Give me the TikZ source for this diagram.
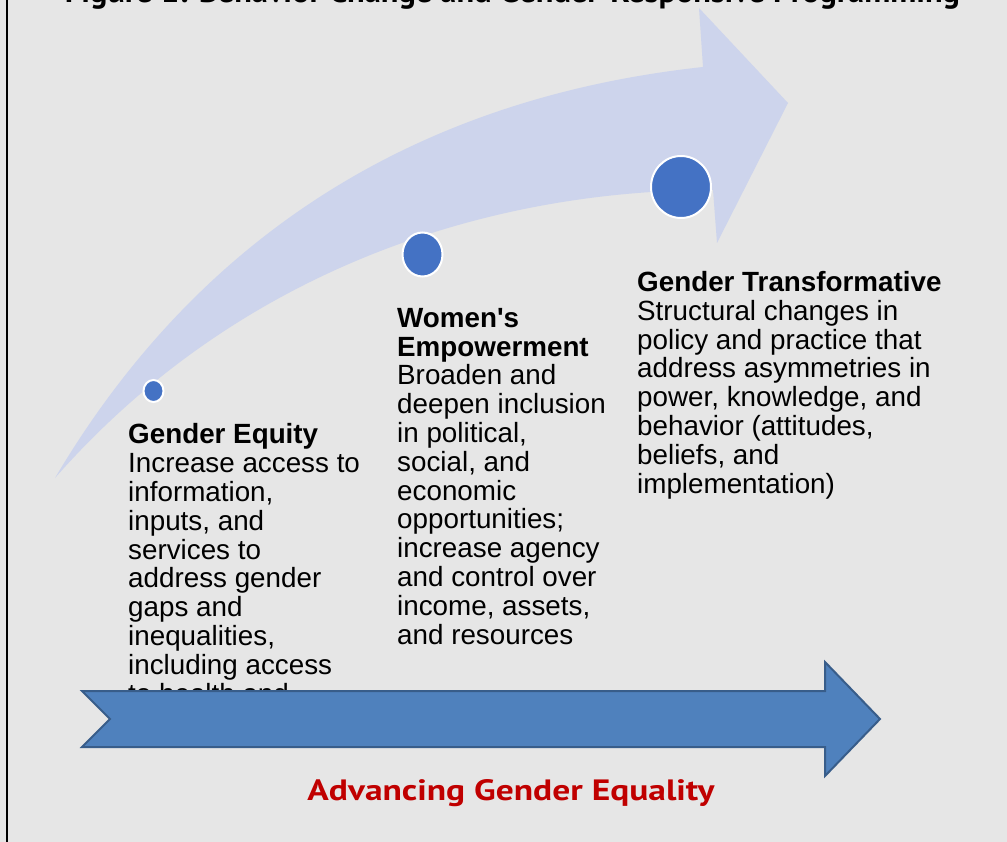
\documentclass[tikz,border=0pt]{standalone}
\usepackage{fontspec}
\setmainfont{Liberation Sans}
\newfontfamily\gillfont{PT Sans}
\usepackage{graphicx}
\usetikzlibrary{shapes.geometric}
\usetikzlibrary{positioning}
\definecolor{bggray}{HTML}{E6E6E6}
\definecolor{curvefill}{HTML}{CDD4EC}
\definecolor{dotblue}{HTML}{4472C4}
\definecolor{barblue}{HTML}{4F81BD}
\definecolor{baredge}{HTML}{385D8A}
\definecolor{eqred}{HTML}{C00000}

\begin{document}
\begin{tikzpicture}[x=1pt,y=-1pt,
  stagedot/.style={ellipse,fill=dotblue,draw=white,line width=2pt,inner sep=0pt},
  coltext/.style={anchor=base west,align=left,inner sep=0pt,font=\fontsize{27.8}{28.8}\selectfont}]
\useasboundingbox (0,0) rectangle (1007,842);
\fill[bggray] (0,0) rectangle (1007,842);
\clip (0,0) rectangle (1007,842);
\fill[curvefill] (55,478) .. controls (190,250) and (400,100) .. (703,67) -- (699,8) -- (788,103) -- (717,243) -- (713,190) .. controls (500,190) and (245,262) .. (55,478) -- cycle;
\node[stagedot,minimum width=20pt,minimum height=22pt] (dotequity) at (153.5,391) {};
\node[stagedot,minimum width=40pt,minimum height=44pt] (dotempower) at (422.5,254.5) {};
\node[stagedot,minimum width=60pt,minimum height=62pt] (dottransform) at (681,187) {};
\node[coltext] (equity) at (128,703) {\textbf{Gender Equity}\\Increase access to\\information,\\inputs, and\\services to\\address gender\\gaps and\\inequalities,\\including access\\to health and};
\node[coltext] (empower) at (397,644) {\textbf{Women\textquotesingle s}\\\textbf{Empowerment}\\Broaden and\\deepen inclusion\\in political,\\social, and\\economic\\opportunities;\\increase agency\\and control over\\income, assets,\\and resources};
\node[coltext] (transform) at (637,493) {\textbf{Gender Transformative}\\Structural changes in\\policy and practice that\\address asymmetries in\\power, knowledge, and\\behavior (attitudes,\\beliefs, and\\implementation)};
\draw[fill=barblue,draw=baredge,line width=2pt] (82,691) -- (825,691) -- (825,662) -- (880,719) -- (825,776) -- (825,747) -- (82,747) -- (110,719) -- cycle;
\node[anchor=base,text=eqred] (advancing) at (511,800) {\resizebox{407pt}{21pt}{\gillfont\bfseries Advancing Gender Equality}};
\node[anchor=base] (title) at (512.5,3) {\resizebox{895pt}{!}{\gillfont\bfseries Figure 1: Behavior Change and Gender-Responsive Programming}};
\draw[line width=2pt] (7,0) -- (7,842);
\end{tikzpicture}
\end{document}
